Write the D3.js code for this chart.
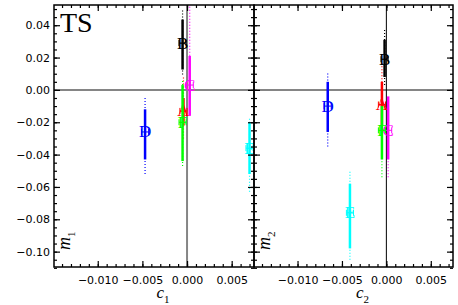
<!DOCTYPE html>
<html>
<head>
<meta charset="utf-8">
<script src="https://cdn.jsdelivr.net/npm/d3@7"></script>
<style>
  body { margin: 0; background: #fff; }
  svg { display: block; }
  .tick text { font-family: "DejaVu Sans", sans-serif; font-size: 11px; fill: #000; }
</style>
</head>
<body>
<div id="content"></div>
<script>
// point labels and colours
var letters = ["A", "B", "C", "D", "E", "F"];
var colors = ["#ff0000", "#000000", "#ff00ff", "#0000ff", "#00ffff", "#00ff00"];

// panel 1: c1 vs m1
var c1 = [-0.0004, -0.0005, 0.0003, -0.0047, 0.0070, -0.0005];
var m1 = [-0.013, 0.029, 0.003, -0.026, -0.036, -0.020];
var m1Lo = [-0.022, 0.0126, -0.016, -0.043, -0.052, -0.044];
var m1Hi = [-0.005, 0.0435, 0.021, -0.012, -0.020, 0.003];
var m1DotLo = [-0.030, 0.0095, -0.016, -0.052, -0.063, -0.047];
var m1DotHi = [0.008, 0.050, 0.055, -0.005, -0.017, 0.006];

// panel 2: c2 vs m2
var c2 = [-0.0005, -0.0002, 0.0002, -0.0066, -0.0041, -0.0005];
var m2 = [-0.009, 0.019, -0.025, -0.010, -0.076, -0.025];
var m2Lo = [-0.022, 0.008, -0.043, -0.026, -0.098, -0.043];
var m2Hi = [0.005, 0.031, -0.004, 0.005, -0.058, -0.010];
var m2DotLo = [-0.025, 0.003, -0.054, -0.035, -0.105, -0.054];
var m2DotHi = [0.017, 0.037, -0.004, 0.011, -0.050, -0.010];

var cErr = [0.0004, 0.0004, 0.0004, 0.0004, 0.0004, 0.0004];

var xMajor = [-0.010, -0.005, 0.000, 0.005];
var xMinor = d3.range(-14, 8).map(function (d) { return d / 1000; });
var yMajor = [0.04, 0.02, 0.00, -0.02, -0.04, -0.06, -0.08, -0.10];
var yMinor = d3.range(-22, 11).map(function (d) { return d * 0.005; });

var W = 458, H = 305;
var yTop = 5, yBot = 267;
var serif = "Liberation Serif, Times New Roman, serif";
var panels = [
  { left: 54, right: 254, c: c1, m: m1, lo: m1Lo, hi: m1Hi, dlo: m1DotLo, dhi: m1DotHi, sub: "1", zeroColor: "#858585", zeroW: 2 },
  { left: 254, right: 453, c: c2, m: m2, lo: m2Lo, hi: m2Hi, dlo: m2DotLo, dhi: m2DotHi, sub: "2", zeroColor: "#000000", zeroW: 1 }
];

var svg = d3.select("#content").append("svg")
    .attr("width", W)
    .attr("height", H);

var y = d3.scaleLinear().domain([-0.1095, 0.0525]).range([yBot, yTop]);

// horizontal zero line across both panels
svg.append("line")
    .attr("x1", panels[0].left).attr("x2", panels[1].right)
    .attr("y1", y(0)).attr("y2", y(0))
    .attr("stroke", "#858585").attr("stroke-width", 2);

panels.forEach(function (p, pi) {
  var x = d3.scaleLinear().domain([-0.0149, 0.0075]).range([p.left, p.right]);
  var g = svg.append("g");

  // vertical zero line
  g.append("line")
      .attr("x1", x(0)).attr("x2", x(0))
      .attr("y1", yTop).attr("y2", yBot)
      .attr("stroke", p.zeroColor).attr("stroke-width", p.zeroW);

  var clip = "clip" + pi;
  svg.append("clipPath").attr("id", clip)
    .append("rect")
      .attr("x", p.left).attr("y", yTop)
      .attr("width", p.right - p.left).attr("height", yBot - yTop);
  var pts = g.append("g").attr("clip-path", "url(#" + clip + ")");

  letters.forEach(function (L, i) {
    var col = colors[i];
    var px = x(p.c[i]);
    var gp = pts.append("g");
    // outer dotted bar
    gp.append("line")
        .attr("x1", px).attr("x2", px)
        .attr("y1", y(p.dlo[i])).attr("y2", y(p.dhi[i]))
        .attr("stroke", col).attr("stroke-width", 1.2)
        .attr("stroke-dasharray", "1,2");
    // inner solid bar
    gp.append("line")
        .attr("x1", px).attr("x2", px)
        .attr("y1", y(p.lo[i])).attr("y2", y(p.hi[i]))
        .attr("stroke", col).attr("stroke-width", 2.5);
    // horizontal error bar with caps
    var x0 = x(p.c[i] - cErr[i]), x1 = x(p.c[i] + cErr[i]), py = y(p.m[i]);
    gp.append("line")
        .attr("x1", x0).attr("x2", x1).attr("y1", py).attr("y2", py)
        .attr("stroke", col).attr("stroke-width", 1);
    [x0, x1].forEach(function (xx) {
      gp.append("line")
          .attr("x1", xx).attr("x2", xx).attr("y1", py - 3).attr("y2", py + 3)
          .attr("stroke", col).attr("stroke-width", 1);
    });
    gp.append("text")
        .attr("x", px).attr("y", py)
        .attr("text-anchor", "middle")
        .attr("dominant-baseline", "central")
        .attr("font-family", serif)
        .attr("font-size", 17)
        .attr("fill", col)
        .text(L);
  });

  // bottom axis
  g.append("g")
      .attr("transform", "translate(0," + yBot + ")")
      .call(d3.axisBottom(x).tickValues(xMajor).tickSize(-6).tickPadding(9)
        .tickFormat(d3.format(".3f")))
      .call(function (a) { a.select(".domain").remove(); });
  g.append("g")
      .attr("transform", "translate(0," + yBot + ")")
      .call(d3.axisBottom(x).tickValues(xMinor).tickSize(-3).tickFormat(""))
      .call(function (a) { a.select(".domain").remove(); });
  // top axis
  g.append("g")
      .attr("transform", "translate(0," + yTop + ")")
      .call(d3.axisTop(x).tickValues(xMajor).tickSize(-6).tickFormat(""))
      .call(function (a) { a.select(".domain").remove(); });
  g.append("g")
      .attr("transform", "translate(0," + yTop + ")")
      .call(d3.axisTop(x).tickValues(xMinor).tickSize(-3).tickFormat(""))
      .call(function (a) { a.select(".domain").remove(); });
  // left axis
  g.append("g")
      .attr("transform", "translate(" + p.left + ",0)")
      .call(d3.axisLeft(y).tickValues(yMajor).tickSize(-6).tickPadding(4)
        .tickFormat(pi == 0 ? d3.format(".2f") : ""))
      .call(function (a) { a.select(".domain").remove(); });
  g.append("g")
      .attr("transform", "translate(" + p.left + ",0)")
      .call(d3.axisLeft(y).tickValues(yMinor).tickSize(-3).tickFormat(""))
      .call(function (a) { a.select(".domain").remove(); });
  // right axis
  g.append("g")
      .attr("transform", "translate(" + p.right + ",0)")
      .call(d3.axisRight(y).tickValues(yMajor).tickSize(-6).tickFormat(""))
      .call(function (a) { a.select(".domain").remove(); });
  g.append("g")
      .attr("transform", "translate(" + p.right + ",0)")
      .call(d3.axisRight(y).tickValues(yMinor).tickSize(-3).tickFormat(""))
      .call(function (a) { a.select(".domain").remove(); });

  g.selectAll(".tick line").attr("stroke", "#000").attr("stroke-width", 1.2);

  // frame
  g.append("rect")
      .attr("x", p.left).attr("y", yTop)
      .attr("width", p.right - p.left).attr("height", yBot - yTop)
      .attr("fill", "none").attr("stroke", "#000").attr("stroke-width", 1.5);

  // axis titles
  var xt = g.append("text")
      .attr("x", (p.left + p.right) / 2 + 9).attr("y", 298)
      .attr("text-anchor", "middle")
      .attr("font-family", serif)
      .attr("font-style", "italic")
      .attr("font-size", 17);
  xt.append("tspan").text("c");
  xt.append("tspan").attr("font-size", 11).attr("dy", 5).attr("font-style", "normal").text(p.sub);

  var yt = g.append("text")
      .attr("transform", "translate(" + (p.left + 16) + ",250) rotate(-90)")
      .attr("text-anchor", "start")
      .attr("font-family", serif)
      .attr("font-style", "italic")
      .attr("font-size", 18);
  yt.append("tspan").text("m");
  yt.append("tspan").attr("font-size", 11).attr("dy", 5).attr("font-style", "normal").text(p.sub);
});

svg.append("text")
    .attr("x", 60).attr("y", 32)
    .attr("font-family", serif)
    .attr("font-size", 28)
    .text("TS");
</script>
</body>
</html>
